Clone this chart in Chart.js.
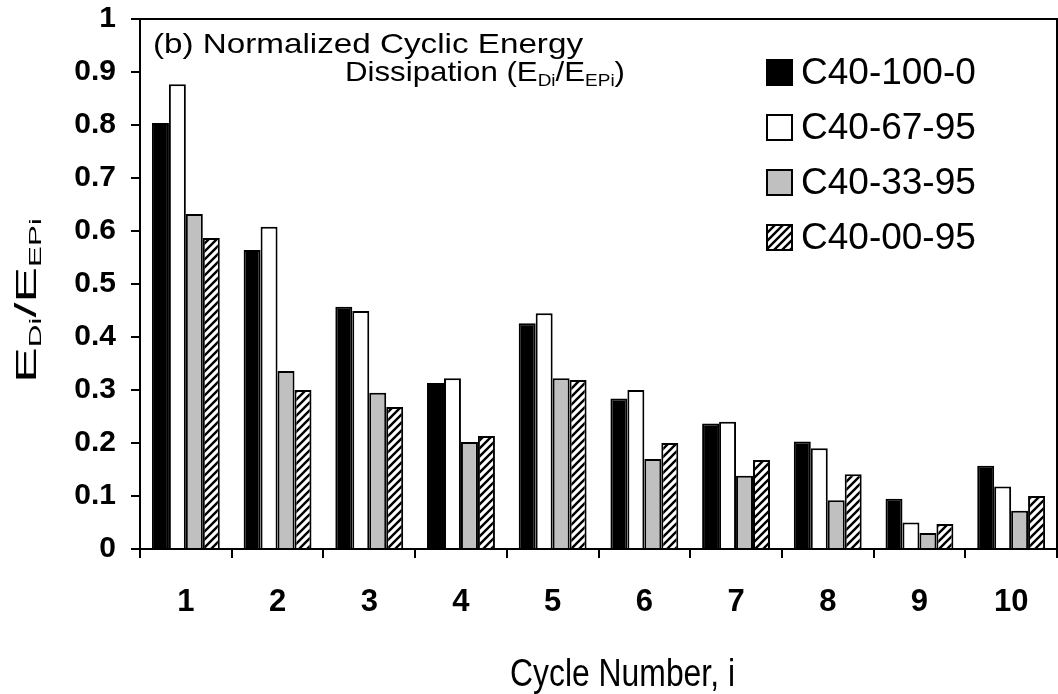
<!DOCTYPE html>
<html>
<head>
<meta charset="utf-8">
<script src="https://cdn.jsdelivr.net/npm/chart.js@4.4.1/dist/chart.umd.min.js"></script>
<style>
  html, body { margin: 0; padding: 0; background: #fff; }
  #wrap { width: 1058px; height: 694px; }
</style>
</head>
<body>
<div id="wrap"><canvas id="chart" width="1058" height="694"></canvas></div>
<script>
// values
const cycles = ['1', '2', '3', '4', '5', '6', '7', '8', '9', '10'];
const seriesNames = ['C40-100-0', 'C40-67-95', 'C40-33-95', 'C40-00-95'];
const c40_100_0 = [0.804, 0.564, 0.457, 0.313, 0.426, 0.284, 0.237, 0.203, 0.095, 0.157];
const c40_67_95 = [0.877, 0.608, 0.449, 0.322, 0.445, 0.300, 0.240, 0.190, 0.050, 0.118];
const c40_33_95 = [0.632, 0.336, 0.295, 0.202, 0.322, 0.170, 0.138, 0.092, 0.030, 0.072];
const c40_00_95 = [0.587, 0.300, 0.268, 0.213, 0.319, 0.200, 0.168, 0.141, 0.047, 0.100];
const yTicks = [0, 0.1, 0.2, 0.3, 0.4, 0.5, 0.6, 0.7, 0.8, 0.9, 1];

const FONT = '"Liberation Sans", Arial, sans-serif';
Chart.defaults.font.family = FONT;
Chart.defaults.color = '#000';

// diagonal hatch "/" for the last series
function makeHatch() {
    const s = 8;
    const c = document.createElement('canvas');
    c.width = s; c.height = s;
    const g = c.getContext('2d');
    g.fillStyle = '#fff';
    g.fillRect(0, 0, s, s);
    g.strokeStyle = '#000';
    g.lineWidth = 2.4;
    g.beginPath();
    g.moveTo(-2, s + 2); g.lineTo(s + 2, -2);
    g.moveTo(-2, 2); g.lineTo(2, -2);
    g.moveTo(s - 2, s + 2); g.lineTo(s + 2, s - 2);
    g.stroke();
    return document.getElementById('chart').getContext('2d').createPattern(c, 'repeat');
}
const hatch = makeHatch();
const fills = ['#000000', '#ffffff', '#c0c0c0', hatch];
const values = [c40_100_0, c40_67_95, c40_33_95, c40_00_95];

// text pieces with subscripts
function drawParts(ctx, parts, x, y, size, weight) {
    let cx = x;
    parts.forEach(p => {
        const fs = p.sub ? Math.round(size * 0.6) : size;
        ctx.font = (weight || '') + ' ' + fs + 'px ' + FONT;
        ctx.fillText(p.t, cx, p.sub ? y + size * 0.18 : y);
        cx += ctx.measureText(p.t).width;
    });
    return cx - x;
}
function partsWidth(ctx, parts, size, weight) {
    let w = 0;
    parts.forEach(p => {
        const fs = p.sub ? Math.round(size * 0.6) : size;
        ctx.font = (weight || '') + ' ' + fs + 'px ' + FONT;
        w += ctx.measureText(p.t).width;
    });
    return w;
}
// draw parts stretched to fit a given width
function fitParts(ctx, parts, x, y, size, width, weight) {
    const w = partsWidth(ctx, parts, size, weight);
    ctx.save();
    ctx.translate(x, y);
    ctx.scale(width / w, 1);
    drawParts(ctx, parts, 0, 0, size, weight);
    ctx.restore();
}

const decor = {
    id: 'decor',
    afterDraw(chart) {
        const ctx = chart.ctx;
        const a = chart.chartArea;
        ctx.save();
        ctx.fillStyle = '#000';
        ctx.strokeStyle = '#000';

        // frame top and right
        ctx.lineWidth = 2;
        ctx.beginPath();
        ctx.moveTo(a.left, a.top);
        ctx.lineTo(a.right, a.top);
        ctx.lineTo(a.right, a.bottom);
        ctx.stroke();

        // panel title
        ctx.textBaseline = 'alphabetic';
        ctx.textAlign = 'left';
        fitParts(ctx, [{ t: '(b) Normalized Cyclic Energy' }], 153, 53, 28, 430);
        fitParts(ctx, [{ t: 'Dissipation (E' }, { t: 'Di', sub: true }, { t: '/E' }, { t: 'EPi', sub: true }, { t: ')' }], 345, 81, 28, 280);

        // legend
        const rows = [72, 127, 182, 237];
        chart.data.datasets.forEach((ds, i) => {
            const cy = rows[i];
            ctx.fillStyle = ds.backgroundColor;
            ctx.fillRect(767, cy - 12, 25, 25);
            ctx.lineWidth = 2;
            ctx.strokeStyle = '#000';
            ctx.strokeRect(767, cy - 12, 25, 25);
            ctx.fillStyle = '#000';
            ctx.font = '37px ' + FONT;
            ctx.textBaseline = 'middle';
            ctx.fillText(ds.label, 801, cy + 2);
        });

        // y axis title
        ctx.textBaseline = 'alphabetic';
        ctx.save();
        ctx.translate(36, 383);
        ctx.rotate(-Math.PI / 2);
        fitParts(ctx, [{ t: 'E' }, { t: 'Di', sub: true }, { t: '/E' }, { t: 'EPi', sub: true }], 0, 0, 29, 165);
        ctx.restore();

        // x axis title
        fitParts(ctx, [{ t: 'Cycle Number, i' }], 510, 686, 39, 225);

        ctx.restore();
    }
};

new Chart(document.getElementById('chart'), {
    type: 'bar',
    data: {
        labels: cycles,
        datasets: seriesNames.map((name, i) => ({
            label: name,
            data: values[i],
            backgroundColor: fills[i],
            borderColor: '#000',
            borderWidth: 2,
            borderSkipped: 'bottom',
            barPercentage: 1,
            categoryPercentage: 0.74
        }))
    },
    options: {
        responsive: false,
        animation: false,
        layout: { padding: { top: 19, right: 1, left: 0, bottom: 0 } },
        plugins: {
            legend: { display: false },
            tooltip: { enabled: false }
        },
        scales: {
            x: {
                offset: true,
                grid: {
                    offset: true,
                    drawOnChartArea: false,
                    drawTicks: true,
                    tickLength: 9,
                    color: '#000',
                    lineWidth: 2
                },
                border: { color: '#000', width: 2 },
                ticks: {
                    font: { size: 31, weight: 'bold' },
                    padding: 26,
                    maxRotation: 0
                },
                afterFit(scale) {
                    scale.height = 145;
                    scale.paddingLeft = 0;
                    scale.paddingRight = 0;
                }
            },
            y: {
                min: 0,
                max: 1,
                afterBuildTicks(scale) { scale.ticks = yTicks.map(v => ({ value: v })); },
                grid: {
                    drawOnChartArea: false,
                    drawTicks: true,
                    tickLength: 9,
                    color: '#000',
                    lineWidth: 2
                },
                border: { color: '#000', width: 2 },
                ticks: {
                    font: { size: 30, weight: 'bold' },
                    padding: 15,
                    callback: v => (v === 0 || v === 1) ? String(v) : v.toFixed(1)
                },
                afterFit(scale) {
                    scale.width = 140;
                    scale.paddingTop = 0;
                    scale.paddingBottom = 0;
                }
            }
        }
    },
    plugins: [decor]
});
</script>
</body>
</html>
